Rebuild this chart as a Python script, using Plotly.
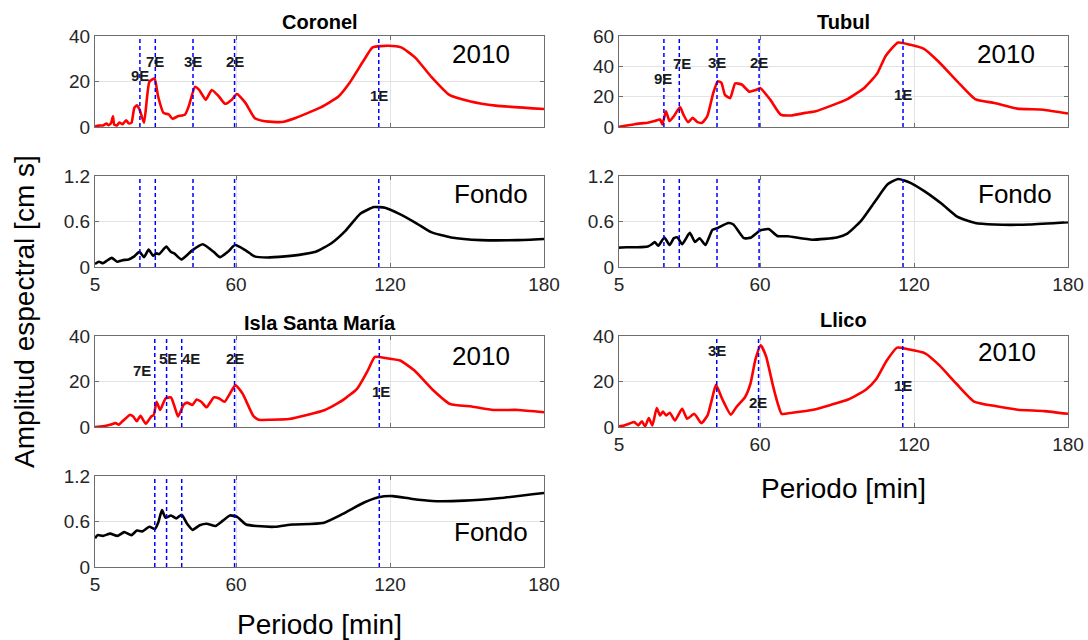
import plotly.graph_objects as go

# ---------------- data ----------------
coronel_per = [5, 6.5, 8.1, 9.5, 10.2, 11.2, 12.0, 12.5, 13.6, 14.5, 15.7, 17.1, 18.1, 19.2, 20.3, 21.3, 22.4, 24.1, 26.2, 28.2,
               29.6, 31.7, 33.8, 35.2, 37.3, 40.1, 41.5, 44.0, 45.6, 48.2, 50.5, 53.3, 55.7, 58.2, 60.3, 63.7, 67.2, 70.7, 77.7, 83.2,
               93.0, 99.9, 104.1, 109.7, 113.2, 119.4, 124.3, 129.9, 136.1, 143.1, 151.4, 161.2, 180]
coronel_amp = [0.3, 0.6, 0.7, 1.5, 0.8, 1.6, 4.7, 1.0, 0.7, 2.0, 1.2, 3.0, 1.6, 1.8, 8.3, 9.5, 7.6, 1.9, 19.9, 21.3,
               13.4, 6.2, 5.5, 3.6, 4.7, 5.5, 9.0, 17.7, 16.3, 12.0, 16.3, 13.4, 10.2, 11.9, 14.5, 10.5, 4.0, 2.6, 2.2, 4.0,
               8.6, 13.4, 19.2, 29.2, 35.0, 35.7, 35.0, 30.4, 22.0, 14.1, 11.2, 9.4, 7.9]

coronel_f_per = [5, 6.5, 8.1, 9.5, 11.5, 13.6, 15.7, 18.1, 20.3, 22.3, 24.1, 25.9, 27.6, 29.0, 30.0, 32.8, 34.5, 35.9, 38.7, 42.9,
                 47.0, 51.2, 53.7, 56.8, 59.6, 63.7, 67.2, 72.1, 79.1, 84.6, 91.0, 97.0, 102.7, 108.3, 113.8, 118.0, 123.6, 130.6, 136.0, 143.8,
                 155.6, 169.6, 180]
coronel_f_amp = [0.04, 0.07, 0.05, 0.08, 0.12, 0.07, 0.09, 0.10, 0.14, 0.20, 0.13, 0.23, 0.15, 0.18, 0.17, 0.27, 0.20, 0.18, 0.10, 0.22,
                 0.30, 0.20, 0.13, 0.20, 0.29, 0.22, 0.14, 0.125, 0.14, 0.16, 0.20, 0.31, 0.48, 0.70, 0.79, 0.78, 0.70, 0.57, 0.46, 0.39,
                 0.355, 0.355, 0.37]

tubul_per = [5, 8.0, 10.7, 13.5, 16.2, 18.9, 21.0, 21.9, 23.3, 24.7, 26.4, 28.8, 30.1, 31.9, 33.7, 35.6, 37.4, 39.4, 41.7, 43.5,
             44.9, 46.3, 48.3, 50.3, 52.8, 55.8, 58.3, 60.1, 64.0, 68.0, 72.1, 77.6, 81.7, 94.0, 100.8, 105.6, 109.0, 113.8, 118.6, 124.0,
             129.5, 137.0, 143.8, 151.3, 160.2, 170.4, 180]
tubul_amp = [0.2, 1.0, 1.7, 2.4, 2.8, 3.9, 5.0, 1.7, 10.4, 3.9, 7.1, 13.2, 8.2, 3.2, 6.0, 3.2, 2.8, 7.1, 22.2, 30.2,
             29.2, 21.2, 19.0, 28.7, 28.0, 23.3, 24.4, 25.5, 17.9, 8.2, 7.6, 9.3, 10.4, 18.4, 26.1, 35.2, 47.0, 55.7, 54.2, 51.4,
             43.2, 29.8, 18.4, 15.8, 12.1, 11.4, 8.9]

tubul_f_per = [5, 8.0, 12.1, 16.2, 17.8, 18.9, 20.3, 22.7, 24.7, 26.4, 27.8, 29.6, 32.6, 34.6, 36.4, 38.7, 41.4, 43.5, 47.6, 49.6,
               53.7, 56.5, 59.9, 63.3, 66.7, 70.8, 80.3, 89.9, 94.0, 99.5, 104.9, 109.7, 113.8, 118.6, 124.0, 130.9, 137.0, 143.8, 151.3, 165.0,
               180]
tubul_f_amp = [0.255, 0.26, 0.26, 0.27, 0.30, 0.33, 0.28, 0.39, 0.29, 0.38, 0.39, 0.30, 0.45, 0.33, 0.38, 0.29, 0.49, 0.515, 0.58, 0.56,
               0.38, 0.39, 0.48, 0.50, 0.41, 0.405, 0.36, 0.39, 0.44, 0.615, 0.87, 1.09, 1.16, 1.11, 1.0, 0.83, 0.66, 0.58, 0.56, 0.56,
               0.59]

ism_per = [5, 8.1, 10.9, 13.0, 14.3, 15.7, 17.1, 18.5, 19.9, 21.3, 22.7, 24.8, 26.9, 27.9, 29.0, 30.4, 32.5, 34.6, 36.0, 37.4,
           39.5, 40.9, 43.0, 44.6, 46.4, 48.5, 51.3, 53.4, 55.5, 59.7, 62.5, 66.7, 68.8, 73.7, 80.6, 87.6, 94.6, 101.6, 107.2, 111.3,
           114.1, 118.3, 123.9, 129.5, 136.5, 143.4, 151.8, 160.2, 169.9, 180]
ism_amp = [0, 0.3, 1.0, 1.7, 1.0, 2.5, 3.9, 5.3, 4.6, 2.5, 4.9, 1.4, 4.6, 5.3, 11.1, 7.5, 12.5, 13.0, 9.0, 4.6,
           9.7, 10.7, 9.7, 12.1, 11.1, 8.7, 13.0, 12.5, 11.1, 18.3, 14.7, 4.9, 3.2, 3.2, 3.5, 5.3, 7.5, 11.8, 16.9, 24.8,
           30.8, 30.3, 29.2, 24.8, 16.5, 10.1, 9.0, 7.5, 7.5, 6.5]

ism_f_per = [5, 6.0, 8.1, 10.9, 13.7, 16.4, 19.2, 21.3, 23.4, 26.2, 28.3, 29.7, 31.1, 32.5, 34.6, 36.7, 38.8, 40.9, 43.0, 45.8,
             48.5, 52.0, 54.1, 57.6, 60.4, 63.9, 68.1, 75.1, 82.0, 93.9, 101.6, 109.9, 115.5, 121.1, 128.1, 136.5, 149.0, 163.0, 180]
ism_f_amp = [0.38, 0.42, 0.41, 0.44, 0.41, 0.46, 0.42, 0.48, 0.47, 0.53, 0.50, 0.59, 0.75, 0.65, 0.68, 0.64, 0.69, 0.57, 0.49, 0.55,
             0.57, 0.54, 0.59, 0.68, 0.66, 0.56, 0.54, 0.53, 0.56, 0.58, 0.70, 0.85, 0.92, 0.935, 0.90, 0.87, 0.875, 0.91, 0.975]

llico_per = [5, 7.0, 9.1, 10.9, 12.5, 13.9, 15.2, 16.6, 18.0, 19.7, 21.0, 22.1, 23.4, 24.8, 26.8, 29.6, 31.6, 34.3, 37.1, 39.5,
             41.1, 42.8, 45.2, 48.6, 50.7, 54.1, 56.2, 58.2, 60.2, 62.3, 65.0, 67.1, 68.4, 72.5, 80.7, 87.5, 94.3, 101.2, 105.3, 109.3,
             113.4, 117.5, 124.3, 129.8, 136.6, 143.4, 151.6, 160.4, 170.7, 180]
llico_amp = [0.3, 0.7, 1.5, 2.2, 0.7, 2.5, 0.3, 3.9, 0.7, 8.3, 5.1, 6.8, 5.1, 6.3, 2.9, 8.0, 3.6, 5.8, 1.7, 5.1,
             11.6, 18.5, 12.4, 5.4, 8.7, 13.1, 18.9, 29.8, 35.9, 31.1, 18.2, 9.5, 5.8, 6.3, 7.6, 9.7, 12.1, 16.4, 21.1, 29.1,
             34.9, 34.2, 32.4, 27.2, 18.9, 11.2, 9.2, 7.6, 7.0, 5.8]

# Mode periods (dashed lines) and label positions
coronel_modes = [22.5, 28.5, 43.2, 59.4, 115.6]
coronel_labels = ["9E", "7E", "3E", "2E", "1E"]
coronel_lab_x = [22.5, 28.5, 43.2, 59.4, 115.6]
coronel_lab_y = [22.7, 28.8, 28.8, 28.8, 13.8]

tubul_modes = [22.5, 28.5, 43.2, 59.6, 115.7]
tubul_labels = ["9E", "7E", "3E", "2E", "1E"]
tubul_lab_x = [22.0, 29.5, 43.2, 59.6, 115.7]
tubul_lab_y = [31.9, 41.7, 42.3, 42.7, 21.6]

ism_modes = [28.3, 32.9, 38.8, 59.4, 115.8]
ism_labels = ["7E", "5E", "4E", "2E", "1E"]
ism_lab_x = [23.4, 33.3, 42.5, 59.7, 116.6]
ism_lab_y = [24.8, 30.2, 30.2, 30.2, 15.7]

llico_modes = [43.1, 59.4, 115.6]
llico_labels = ["3E", "2E", "1E"]
llico_lab_x = [43.2, 59.2, 115.5]
llico_lab_y = [33.7, 10.9, 18.2]

x_ticks = [5, 60, 120, 180]
y_ticks_a = [0, 20, 40]
y_ticks_tubul = [0, 20, 40, 60]
y_ticks_f = [0, 0.6, 1.2]
y_tick_f_text = ["0", "0.6", "1.2"]

# ---------------- layout geometry ----------------
W, H = 1088, 640
def px_x(a, b):
    return [a / W, b / W]
def px_y(top, bot):
    return [1 - bot / H, 1 - top / H]

LEFT = px_x(95, 544)
RIGHT = px_x(619, 1068)
ROW1 = px_y(36, 127)
ROW2 = px_y(176, 267)
ROW3 = px_y(336, 427)
ROW4 = px_y(476, 567)

FONT = "Liberation Sans, Arial, Helvetica, sans-serif"
AX_COLOR = "#6e6e6e"
TICK_FONT = dict(family=FONT, size=19, color="#262626")
GRID = "#e3e3e3"

panels = [
    (1, LEFT, ROW1, coronel_per, coronel_amp, "#ff0000", y_ticks_a, None, [0, 40], False),
    (2, LEFT, ROW2, coronel_f_per, coronel_f_amp, "#000000", y_ticks_f, y_tick_f_text, [0, 1.2], True),
    (3, RIGHT, ROW1, tubul_per, tubul_amp, "#ff0000", y_ticks_tubul, None, [0, 60], False),
    (4, RIGHT, ROW2, tubul_f_per, tubul_f_amp, "#000000", y_ticks_f, y_tick_f_text, [0, 1.2], True),
    (5, LEFT, ROW3, ism_per, ism_amp, "#ff0000", y_ticks_a, None, [0, 40], False),
    (6, LEFT, ROW4, ism_f_per, ism_f_amp, "#000000", y_ticks_f, y_tick_f_text, [0, 1.2], True),
    (7, RIGHT, ROW3, llico_per, llico_amp, "#ff0000", y_ticks_a, None, [0, 40], True),
]

mode_sets = {1: coronel_modes, 2: coronel_modes, 3: tubul_modes, 4: tubul_modes,
             5: ism_modes, 6: ism_modes, 7: llico_modes}

fig = go.Figure()
layout = {}
shapes = []
annotations = []

for pid, xd, yd, xs, ys, col, yt, ytt, yr, showx in panels:
    sfx = "" if pid == 1 else str(pid)
    fig.add_trace(go.Scatter(x=xs, y=ys, mode="lines",
                             line=dict(color=col, width=2.6, shape="spline", smoothing=0.5),
                             xaxis="x" + sfx, yaxis="y" + sfx, showlegend=False,
                             hoverinfo="x+y"))
    layout["xaxis" + sfx] = dict(domain=xd, anchor="y" + sfx, range=[5, 180], automargin=False,
                                 tickvals=x_ticks, ticktext=[str(v) for v in x_ticks],
                                 showticklabels=showx, ticks="inside", ticklen=4,
                                 tickcolor=AX_COLOR, showgrid=True, gridcolor=GRID, gridwidth=1.2,
                                 showline=True, linecolor=AX_COLOR, linewidth=1.2, mirror="ticks",
                                 zeroline=False, tickfont=TICK_FONT, fixedrange=True)
    layout["yaxis" + sfx] = dict(domain=yd, anchor="x" + sfx, range=yr, automargin=False,
                                 tickvals=yt, ticktext=ytt if ytt else [str(v) for v in yt],
                                 ticks="inside", ticklen=4, tickcolor=AX_COLOR,
                                 showgrid=True, gridcolor=GRID, gridwidth=1.2,
                                 showline=True, linecolor=AX_COLOR, linewidth=1.2, mirror="ticks",
                                 zeroline=False, tickfont=TICK_FONT, fixedrange=True)
    for m in mode_sets[pid]:
        shapes.append(dict(type="line", xref="x" + sfx, yref="y" + sfx + " domain",
                           x0=m, x1=m, y0=0, y1=1,
                           line=dict(color="#0000ff", width=1.5, dash="4px,3px"), layer="above"))

label_sets = [(1, coronel_labels, coronel_lab_x, coronel_lab_y),
              (3, tubul_labels, tubul_lab_x, tubul_lab_y),
              (5, ism_labels, ism_lab_x, ism_lab_y),
              (7, llico_labels, llico_lab_x, llico_lab_y)]
for pid, labs, lx, ly in label_sets:
    sfx = "" if pid == 1 else str(pid)
    for t, xx, yy in zip(labs, lx, ly):
        annotations.append(dict(text="<b>" + t + "</b>", x=xx, y=yy, xref="x" + sfx, yref="y" + sfx,
                                showarrow=False, xanchor="center", yanchor="middle",
                                font=dict(family=FONT, size=15, color="#1a1a1a")))

tags = [(1, "2010", 0.86, 0.80), (2, "Fondo", 0.883, 0.80), (3, "2010", 0.862, 0.80),
        (4, "Fondo", 0.883, 0.80), (5, "2010", 0.86, 0.78), (6, "Fondo", 0.883, 0.39),
        (7, "2010", 0.864, 0.82)]
for pid, t, fx, fy in tags:
    sfx = "" if pid == 1 else str(pid)
    annotations.append(dict(text=t, x=fx, y=fy, xref="x" + sfx + " domain", yref="y" + sfx + " domain",
                            showarrow=False, xanchor="center", yanchor="middle",
                            font=dict(family=FONT, size=26, color="#000000")))

titles = [("Coronel", (LEFT[0] + LEFT[1]) / 2, 1 - 22 / H),
          ("Tubul", (RIGHT[0] + RIGHT[1]) / 2, 1 - 22 / H),
          ("Isla Santa María", (LEFT[0] + LEFT[1]) / 2, 1 - 323 / H),
          ("Llico", (RIGHT[0] + RIGHT[1]) / 2, 1 - 320 / H)]
for t, xx, yy in titles:
    annotations.append(dict(text="<b>" + t + "</b>", x=xx, y=yy, xref="paper", yref="paper",
                            showarrow=False, xanchor="center", yanchor="middle",
                            font=dict(family=FONT, size=20, color="#000000")))

annotations.append(dict(text="Periodo [min]", x=(RIGHT[0] + RIGHT[1]) / 2, y=1 - 488 / H,
                        xref="paper", yref="paper", showarrow=False, xanchor="center", yanchor="middle",
                        font=dict(family=FONT, size=28, color="#000000")))
annotations.append(dict(text="Periodo [min]", x=(LEFT[0] + LEFT[1]) / 2, y=1 - 624 / H,
                        xref="paper", yref="paper", showarrow=False, xanchor="center", yanchor="middle",
                        font=dict(family=FONT, size=28, color="#000000")))
annotations.append(dict(text="Amplitud espectral [cm s]", x=24 / W, y=1 - 312 / H,
                        xref="paper", yref="paper", showarrow=False, xanchor="center", yanchor="middle",
                        textangle=-90, font=dict(family=FONT, size=28, color="#000000")))

fig.update_layout(width=W, height=H, margin=dict(l=0, r=0, t=0, b=0, autoexpand=False),
                  paper_bgcolor="white", plot_bgcolor="white",
                  shapes=shapes, annotations=annotations, showlegend=False, **layout)

fig.write_html("out.html")
